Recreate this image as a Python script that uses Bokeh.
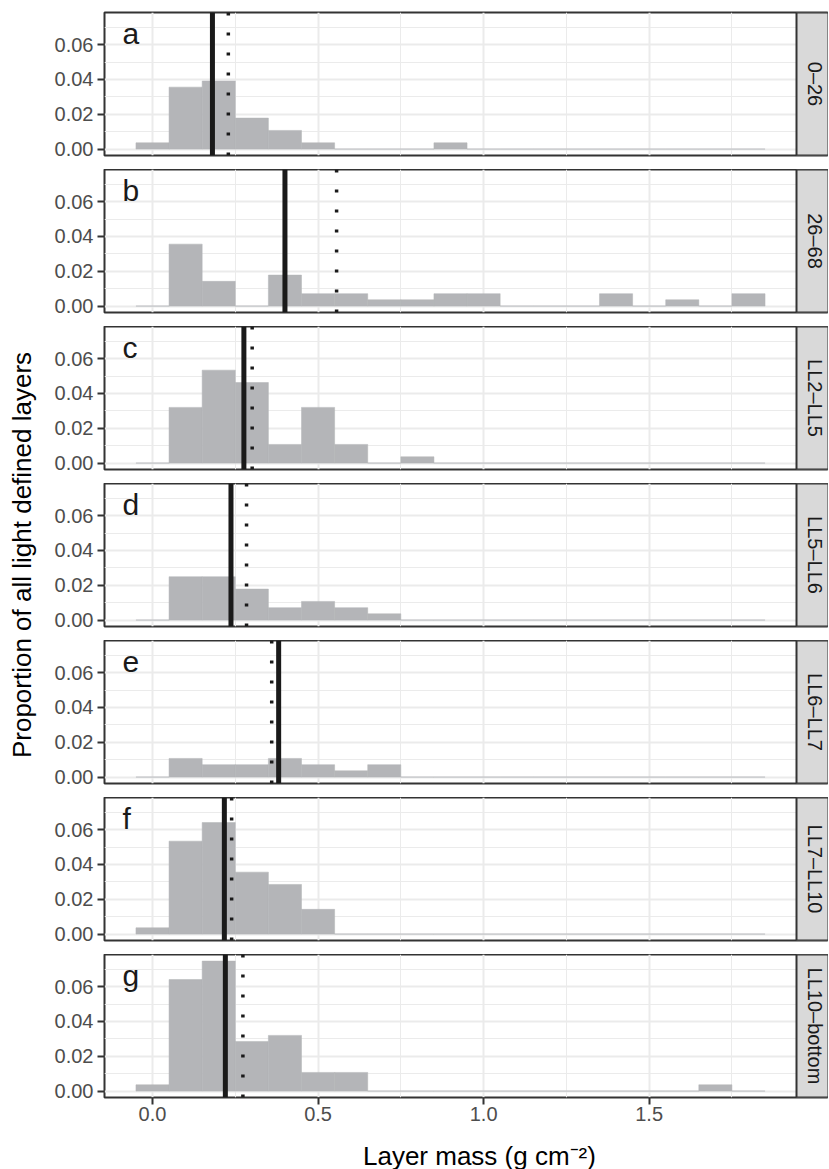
import math
from bokeh.plotting import figure
from bokeh.models import (Range1d, FixedTicker, PrintfTickFormatter, Span, BoxAnnotation,
                          Label, ColumnDataSource, LinearAxis, Grid)
from bokeh.layouts import column, row
from bokeh.embed import file_html
from bokeh.resources import INLINE

# ---------------- data ----------------
facet_labels = ["0–26", "26–68", "LL2–LL5", "LL5–LL6", "LL6–LL7", "LL7–LL10", "LL10–bottom"]
panel_letters = ["a", "b", "c", "d", "e", "f", "g"]

bin_centers = [0.0, 0.1, 0.2, 0.3, 0.4, 0.5, 0.6, 0.7, 0.8, 0.9,
               1.0, 1.1, 1.2, 1.3, 1.4, 1.5, 1.6, 1.7, 1.8]

prop_a = [0.0036, 0.0356, 0.0391, 0.0178, 0.0107, 0.0036, 0, 0, 0, 0.0036,
          0, 0, 0, 0, 0, 0, 0, 0, 0]
prop_b = [0, 0.0356, 0.0142, 0, 0.0178, 0.0071, 0.0071, 0.0036, 0.0036, 0.0071,
          0.0071, 0, 0, 0, 0.0071, 0, 0.0036, 0, 0.0071]
prop_c = [0, 0.0320, 0.0534, 0.0463, 0.0107, 0.0320, 0.0107, 0, 0.0036, 0,
          0, 0, 0, 0, 0, 0, 0, 0, 0]
prop_d = [0, 0.0249, 0.0249, 0.0178, 0.0071, 0.0107, 0.0071, 0.0036, 0, 0,
          0, 0, 0, 0, 0, 0, 0, 0, 0]
prop_e = [0, 0.0107, 0.0071, 0.0071, 0.0107, 0.0071, 0.0036, 0.0071, 0, 0,
          0, 0, 0, 0, 0, 0, 0, 0, 0]
prop_f = [0.0036, 0.0534, 0.0641, 0.0356, 0.0285, 0.0142, 0, 0, 0, 0,
          0, 0, 0, 0, 0, 0, 0, 0, 0]
prop_g = [0.0036, 0.0641, 0.0747, 0.0285, 0.0320, 0.0107, 0.0107, 0, 0, 0,
          0, 0, 0, 0, 0, 0, 0, 0.0036, 0]
proportions = [prop_a, prop_b, prop_c, prop_d, prop_e, prop_f, prop_g]

medians = [0.181, 0.400, 0.276, 0.237, 0.381, 0.217, 0.220]   # solid lines
means = [0.229, 0.556, 0.301, 0.284, 0.360, 0.239, 0.273]     # dotted lines

x_ticks = [0.0, 0.5, 1.0, 1.5]
x_minor = [0.25, 0.75, 1.25, 1.75]
y_ticks = [0.00, 0.02, 0.04, 0.06]
y_minor = [0.01, 0.03, 0.05, 0.07]

y_title = "Proportion of all light defined layers"
x_title = "Layer mass (g cm⁻²)"

# ---------------- style / layout ----------------
FONT = "Liberation Sans"
BAR = "#B4B5B8"
GRID = "#EBEBEB"
DARK = "#1A1A1A"
BORDER = "#333333"
BIN_W = 0.1

X_LO, X_PANEL_HI = -0.145, 1.945
FRAME_W, PANEL_W = 724, 692
X_HI = X_LO + (X_PANEL_HI - X_LO) * FRAME_W / PANEL_W
Y_LO, Y_HI = -0.0037, 0.0785
FRAME_H = 143
LEFT_B = 60
FIG_W = LEFT_B + FRAME_W
TOTAL_H = 1169
YT_W = 44

figs = []
n = len(proportions)
for i in range(n):
    top_b = 12 if i == 0 else 0
    bot_b = 34 if i == n - 1 else 14
    p = figure(width=FIG_W, height=top_b + FRAME_H + bot_b,
               x_range=Range1d(X_LO, X_HI), y_range=Range1d(Y_LO, Y_HI),
               output_backend="svg", toolbar_location=None,
               x_axis_location=None, y_axis_location=None,
               min_border_left=LEFT_B, min_border_right=0,
               min_border_top=top_b, min_border_bottom=bot_b)
    p.grid.visible = False
    p.background_fill_color = "white"
    p.border_fill_color = "white"
    p.outline_line_color = BORDER
    p.outline_line_width = 2

    p.add_layout(Grid(dimension=0, ticker=FixedTicker(ticks=x_ticks, minor_ticks=x_minor),
                      grid_line_color=GRID, grid_line_width=2,
                      minor_grid_line_color=GRID, minor_grid_line_width=1))
    p.add_layout(Grid(dimension=1, ticker=FixedTicker(ticks=y_ticks, minor_ticks=y_minor),
                      grid_line_color=GRID, grid_line_width=2,
                      minor_grid_line_color=GRID, minor_grid_line_width=1))

    src = ColumnDataSource(dict(left=[c - BIN_W / 2 for c in bin_centers],
                                right=[c + BIN_W / 2 for c in bin_centers],
                                top=proportions[i]))
    p.quad(left="left", right="right", bottom=0, top="top", source=src,
           fill_color=BAR, line_color=BAR, line_width=1, line_alpha=0.5)

    p.add_layout(Span(location=medians[i], dimension="height",
                      line_color=DARK, line_width=5))
    p.add_layout(Span(location=means[i], dimension="height",
                      line_color=DARK, line_width=3.5, line_dash="3 17"))

    # facet strip
    p.add_layout(BoxAnnotation(left=X_PANEL_HI, fill_color="#D9D9D9", fill_alpha=1,
                               line_color=BORDER, line_width=2, line_alpha=1))
    p.add_layout(Label(x=(X_PANEL_HI + X_HI) / 2, y=(Y_LO + Y_HI) / 2, x_offset=2,
                       text=facet_labels[i], angle=-math.pi / 2,
                       text_align="center", text_baseline="middle",
                       text_font=FONT, text_font_size="20px", text_color=DARK))
    # panel letter
    p.add_layout(Label(x=-0.091, y=0.0664, text=panel_letters[i],
                       text_align="left", text_baseline="alphabetic",
                       text_font=FONT, text_font_size="30px", text_color=DARK))

    yax = LinearAxis(ticker=FixedTicker(ticks=y_ticks, minor_ticks=y_minor),
                     formatter=PrintfTickFormatter(format="%.2f"),
                     axis_line_color=None,
                     major_tick_line_color=BORDER, major_tick_line_width=2,
                     major_tick_out=7, major_tick_in=0,
                     minor_tick_line_color=None,
                     major_label_text_font=FONT, major_label_text_font_size="20px",
                     major_label_text_color="#4D4D4D", major_label_standoff=4)
    p.add_layout(yax, "left")

    if i == n - 1:
        xax = LinearAxis(ticker=FixedTicker(ticks=x_ticks),
                         formatter=PrintfTickFormatter(format="%.1f"),
                         axis_line_color=None,
                         major_tick_line_color=BORDER, major_tick_line_width=2,
                         major_tick_out=7, major_tick_in=0,
                         minor_tick_line_color=None,
                         major_label_text_font=FONT, major_label_text_font_size="20px",
                         major_label_text_color="#4D4D4D", major_label_standoff=2)
        p.add_layout(xax, "below")
    figs.append(p)

used_h = sum(f.height for f in figs)
xt_h = TOTAL_H - used_h

def blank(w, h):
    f = figure(width=w, height=h, x_range=Range1d(0, w), y_range=Range1d(0, h),
               output_backend="svg", toolbar_location=None,
               x_axis_location=None, y_axis_location=None,
               min_border_left=0, min_border_right=0, min_border_top=0, min_border_bottom=0)
    f.grid.visible = False
    f.outline_line_color = None
    f.background_fill_color = "white"
    f.border_fill_color = "white"
    return f

xt = blank(FIG_W, xt_h)
xt.add_layout(Label(x=450 - YT_W, y=14, text=x_title, text_align="center",
                    text_baseline="alphabetic", text_font=FONT,
                    text_font_size="26px", text_color="black"))

yt = blank(YT_W, TOTAL_H)
yt.add_layout(Label(x=21, y=TOTAL_H - 554.5, text=y_title, angle=math.pi / 2,
                    text_align="center", text_baseline="alphabetic", text_font=FONT,
                    text_font_size="26px", text_color="black"))

layout = row(yt, column(*figs, xt))
open("out.html", "w").write(file_html(layout, INLINE))
